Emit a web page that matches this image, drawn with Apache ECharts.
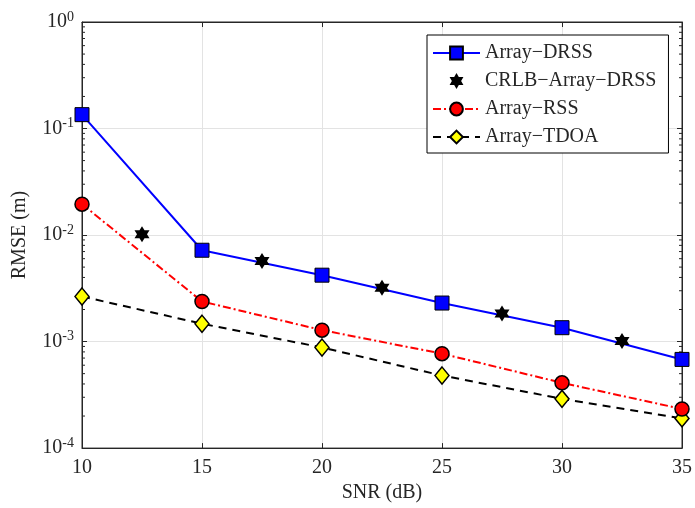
<!DOCTYPE html>
<html><head><meta charset="utf-8">
<script src="https://cdn.jsdelivr.net/npm/echarts@6/dist/echarts.min.js"></script>
<style>html,body{margin:0;padding:0;background:#fff}#c{width:695px;height:508px}</style>
</head><body><div id="c"></div>
<script>
const snr = [10, 15, 20, 25, 30, 35];
const snrCrlb = [12.5, 17.5, 22.5, 27.5, 32.5];
const arrayDRSS = [0.135, 0.0072, 0.0042, 0.0023, 0.00135, 0.00068];
const crlbArrayDRSS = [0.0102, 0.0057, 0.0032, 0.00183, 0.00101];
const arrayRSS = [0.0195, 0.00238, 0.00128, 0.00077, 0.00041, 0.000233];
const arrayTDOA = [0.00265, 0.00147, 0.00088, 0.00048, 0.00029, 0.00019];
const xTicks = [10, 15, 20, 25, 30, 35];
const yExponents = [0, -1, -2, -3, -4];
const minorTickValues = [];
[-4, -3, -2, -1].forEach(e => { for (let m = 2; m <= 9; m++) minorTickValues.push(+(m * Math.pow(10, e)).toPrecision(3)); });

const FONT = '"Liberation Serif", "Times New Roman", serif';
const AX = '#262626';
const star = 'path://M0,-10 L2.887,-5 L8.66,-5 L5.774,0 L8.66,5 L2.887,5 L0,10 L-2.887,5 L-8.66,5 L-5.774,0 L-8.66,-5 L-2.887,-5 Z';
const pairs = (xs, ys) => xs.map((x, i) => [x, ys[i]]);

const chart = echarts.init(document.getElementById('c'), null, {renderer: 'canvas'});
const yLabel = {
  fontFamily: FONT, color: AX, margin: 8,
  formatter: v => { const e = Math.round(Math.log10(v)); return yExponents.includes(e) ? '{b|10}{s|' + e + '}' : ''; },
  rich: {
    b: {fontSize: 20, fontFamily: FONT, color: AX, lineHeight: 24},
    s: {fontSize: 14, fontFamily: FONT, color: AX, verticalAlign: 'top', lineHeight: 24, padding: [0, 0, 8, 0]}
  }
};
chart.setOption({
  animation: false,
  grid: {left: 82, right: 11, top: 22, bottom: 55, show: true, borderColor: AX, borderWidth: 1},
  legend: {
    orient: 'vertical', left: 427, top: 35,
    backgroundColor: '#fff', borderColor: '#000', borderWidth: 1,
    padding: [8, 12, 6, 5], itemGap: 8, itemWidth: 47, itemHeight: 16,
    textStyle: {fontFamily: FONT, fontSize: 20, color: AX},
    data: ['Array−DRSS', 'CRLB−Array−DRSS', 'Array−RSS', 'Array−TDOA']
  },
  xAxis: [{
    type: 'value', min: 10, max: 35, interval: 5,
    name: 'SNR (dB)', nameLocation: 'middle', nameGap: 31,
    nameTextStyle: {fontFamily: FONT, fontSize: 20, color: AX},
    axisLine: {lineStyle: {color: AX}},
    axisTick: {inside: true, length: 5, lineStyle: {color: AX}},
    axisLabel: {fontFamily: FONT, fontSize: 20, color: AX, margin: 10, formatter: v => xTicks.includes(v) ? String(v) : ''},
    splitLine: {show: true, lineStyle: {color: '#e3e3e3', width: 1}}
  }, {
    type: 'value', min: 10, max: 35, interval: 5, position: 'top',
    axisLine: {show: true, lineStyle: {color: AX}},
    axisTick: {show: true, inside: true, length: 5, lineStyle: {color: AX}},
    axisLabel: {show: false}, splitLine: {show: false}
  }],
  yAxis: [{
    type: 'log', min: 1e-4, max: 1, logBase: 10,
    name: 'RMSE (m)', nameLocation: 'middle', nameGap: 52,
    nameTextStyle: {fontFamily: FONT, fontSize: 20, color: AX},
    axisLine: {show: true, lineStyle: {color: AX}},
    axisTick: {show: true, inside: true, length: 5, lineStyle: {color: AX}},
    axisLabel: yLabel,
    splitLine: {show: true, lineStyle: {color: '#e3e3e3', width: 1}}
  }, {
    type: 'log', min: 1e-4, max: 1, logBase: 10, position: 'right',
    axisLine: {show: true, lineStyle: {color: AX}},
    axisTick: {show: true, inside: true, length: 5, lineStyle: {color: AX}},
    axisLabel: {show: false}, splitLine: {show: false}
  }],
  series: [
    {
      type: 'custom', silent: true, z: 1, xAxisIndex: 0, yAxisIndex: 0,
      data: minorTickValues.map(v => [10, v]),
      renderItem: (params, api) => {
        const v = api.value(1);
        const pl = api.coord([10, v]);
        const pr = api.coord([35, v]);
        return {type: 'group', children: [
          {type: 'line', shape: {x1: pl[0], y1: pl[1], x2: pl[0] + 3, y2: pl[1]}, style: {stroke: AX, lineWidth: 1}},
          {type: 'line', shape: {x1: pr[0], y1: pr[1], x2: pr[0] - 3, y2: pr[1]}, style: {stroke: AX, lineWidth: 1}}
        ]};
      }
    },
    {
      name: 'Array−DRSS', type: 'line', data: pairs(snr, arrayDRSS), z: 5,
      symbol: 'rect', symbolSize: 14,
      lineStyle: {color: '#0000ff', width: 2},
      itemStyle: {color: '#0000ff', borderColor: '#000', borderWidth: 1}
    },
    {
      name: 'CRLB−Array−DRSS', type: 'scatter', data: pairs(snrCrlb, crlbArrayDRSS), z: 6,
      symbol: star, symbolSize: [15, 16],
      itemStyle: {color: '#000', opacity: 1}
    },
    {
      name: 'Array−RSS', type: 'line', data: pairs(snr, arrayRSS), z: 4,
      symbol: 'circle', symbolSize: 14,
      lineStyle: {color: '#ff0000', width: 2, type: [8, 3, 2, 3]},
      itemStyle: {color: '#ff0000', borderColor: '#000', borderWidth: 1.5}
    },
    {
      name: 'Array−TDOA', type: 'line', data: pairs(snr, arrayTDOA), z: 3,
      symbol: 'diamond', symbolSize: [14, 17],
      lineStyle: {color: '#000', width: 2, type: [8, 6]},
      itemStyle: {color: '#ffff00', borderColor: '#000', borderWidth: 1.5}
    }
  ]
});
</script></body></html>
